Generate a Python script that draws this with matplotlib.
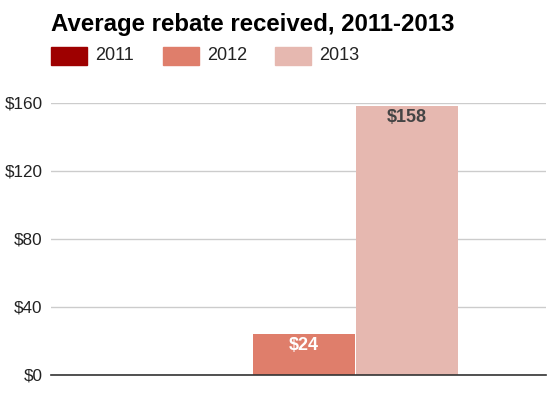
import matplotlib.pyplot as plt
from matplotlib.patches import Rectangle

plt.rcParams['font.family'] = ['Liberation Sans', 'DejaVu Sans']

years = ['2011', '2012', '2013']
rebates = [0, 24, 158]
colors = ['#9e0000', '#df7e6b', '#e6b8b0']
label_colors = ['#ffffff', '#ffffff', '#444444']
y_ticks = [0, 40, 80, 120, 160]

fig = plt.figure(figsize=(5.5, 3.98), dpi=100)
ax = fig.add_axes([51 / 550, 23 / 398, 495 / 550, 272 / 398])

x = [-1, 0, 1]
ax.bar(x, rebates, width=0.99, color=colors, zorder=2)

for xi, v, c in zip(x, rebates, label_colors):
    if v > 0:
        ax.text(xi, v - 6.8, f'${v}', ha='center', va='center',
                fontsize=13, fontweight='bold', color=c, zorder=3)

ax.set_xlim(-2.45, 2.35)
ax.set_ylim(0, 160)
ax.set_yticks(y_ticks)
ax.set_yticklabels([f'${t}' for t in y_ticks], fontsize=12.3, color='#222222')
ax.set_xticks([])
ax.tick_params(axis='y', length=0, pad=6)
ax.grid(axis='y', color='#cccccc', linewidth=1, zorder=0)
for s in ['top', 'right', 'left']:
    ax.spines[s].set_visible(False)
ax.spines['bottom'].set_color('#333333')
ax.spines['bottom'].set_linewidth(1.2)
ax.spines['bottom'].set_zorder(4)

# title
fig.text(51 / 550, 1 - 31 / 398, 'Average rebate received, 2011-2013',
         fontsize=17.3, fontweight='bold', color='#000000', ha='left', va='baseline')

# legend
leg_x = [51, 163, 275]
for lx, yr, c in zip(leg_x, years, colors):
    fig.patches.append(Rectangle((lx / 550, 1 - 65 / 398), 36 / 550, 18 / 398,
                                 transform=fig.transFigure, color=c))
    fig.text((lx + 44) / 550, 1 - 56 / 398, yr, fontsize=13, color='#222222',
             ha='left', va='center')

fig.savefig('out.png', dpi=100)
